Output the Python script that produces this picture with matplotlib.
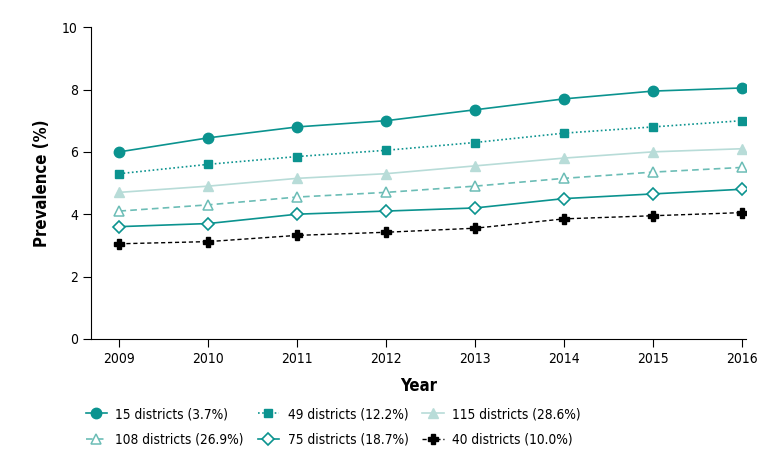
import matplotlib
matplotlib.use("Agg")
import matplotlib.pyplot as plt

years = [2009, 2010, 2011, 2012, 2013, 2014, 2015, 2016]

d15 = [6.0, 6.45, 6.8, 7.0, 7.35, 7.7, 7.95, 8.05]
d49 = [5.3, 5.6, 5.85, 6.05, 6.3, 6.6, 6.8, 7.0]
d115 = [4.7, 4.9, 5.15, 5.3, 5.55, 5.8, 6.0, 6.1]
d108 = [4.1, 4.3, 4.55, 4.7, 4.9, 5.15, 5.35, 5.5]
d75 = [3.6, 3.7, 4.0, 4.1, 4.2, 4.5, 4.65, 4.8]
d40 = [3.05, 3.12, 3.32, 3.42, 3.55, 3.85, 3.95, 4.05]

labels = ["15 districts (3.7%)", "49 districts (12.2%)", "115 districts (28.6%)",
          "108 districts (26.9%)", "75 districts (18.7%)", "40 districts (10.0%)"]

plt.rcParams['font.family'] = ['DejaVu Sans']
plt.rcParams['font.stretch'] = 'condensed'

teal = "#0b938f"
light = "#b8dcd8"
mid = "#6cbdb6"

fig = plt.figure(figsize=(7.71, 4.61), dpi=100)
ax = fig.add_axes([0.118, 0.265, 0.85, 0.676])

h1, = ax.plot(years, d15, color=teal, lw=1.2, marker="o", ms=7.5, label=labels[0])
h2, = ax.plot(years, d49, color=teal, lw=1.2, ls=(0, (1, 1.5)), marker="s", ms=6,
              label=labels[1])
h3, = ax.plot(years, d115, color=light, lw=1.2, marker="^", ms=7.5, label=labels[2])
h4, = ax.plot(years, d108, color=mid, lw=1.2, ls=(0, (4, 2.5)), marker="^", ms=7.5,
              mfc="white", mec=mid, mew=1.1, label=labels[3])
h5, = ax.plot(years, d75, color=teal, lw=1.2, marker="D", ms=6.5, mfc="white",
              mec=teal, mew=1.2, label=labels[4])
h6, = ax.plot(years, d40, color="black", lw=1.0, ls=(0, (3, 2)), marker="P", ms=7.5,
              mfc="black", mec="black", label=labels[5])

ax.set_xlim(2008.68, 2016.05)
ax.set_ylim(0, 10)
ax.set_yticks([0, 2, 4, 6, 8, 10])
ax.set_xticks(years)
ax.spines["top"].set_visible(False)
ax.spines["right"].set_visible(False)
ax.tick_params(labelsize=10, length=6, direction="out")
ax.set_xlabel("Year", fontsize=12, fontweight="bold", labelpad=8)
ax.set_ylabel("Prevalence (%)", fontsize=12, fontweight="bold", labelpad=8)

ax.legend(handles=[h1, h4, h2, h5, h3, h6], ncol=3, loc="upper left",
          bbox_to_anchor=(-0.027, -0.18), frameon=False, fontsize=9.8,
          handlelength=1.6, columnspacing=1.0, labelspacing=0.85, handletextpad=0.6)

fig.savefig("out.png", dpi=100)
